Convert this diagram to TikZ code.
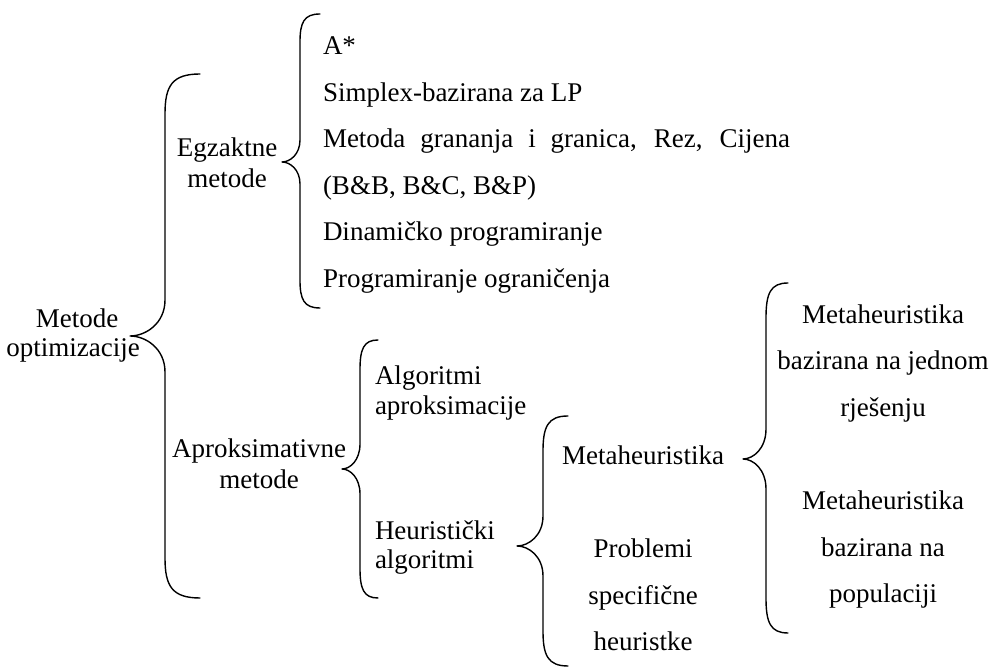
\documentclass[tikz,border=0pt]{standalone}
\usepackage{fontspec}
\setmainfont{Liberation Serif}
\newcommand\mybrace[8]{%
  \draw[bracestyle] (#1,#4) .. controls ({#2+0.2*(#1-#2)},#4) and (#2,{#4+0.3*#7}) .. (#2,{#4+#7})
   -- (#2,{#5-#8}) .. controls (#2,{#5-0.35*#8}) and ({#3+0.45*(#2-#3)},#5) .. (#3,#5)
   .. controls ({#3+0.45*(#2-#3)},#5) and (#2,{#5+0.35*#8}) .. (#2,{#5+#8})
   -- (#2,{#6-#7}) .. controls (#2,{#6-0.3*#7}) and ({#2+0.2*(#1-#2)},#6) .. (#1,#6);}
\begin{document}
\begin{tikzpicture}[x=0.5pt,y=-0.5pt,
  bracestyle/.style={line width=0.7pt,line cap=round,line join=round},
  txt/.style={inner sep=0pt,outer sep=0pt,font=\fontsize{13.5}{16}\selectfont},
  cl/.style={txt,anchor=base},
  ll/.style={txt,anchor=base west}]
\useasboundingbox (0,0) rectangle (992,672);
% root
\node[cl] (r1) at (77,328) {Metode};
\node[cl] (r2) at (73,357) {optimizacije};
\mybrace{200}{165}{130}{74}{336}{598}{40}{36}
% exact
\node[cl] (e1) at (227,157) {Egzaktne};
\node[cl] (e2) at (227,188) {metode};
\mybrace{320}{300}{282}{14}{162}{308}{28}{22}
\node[ll] (i1) at (323,55) {A*};
\node[ll] (i2) at (323,102) {Simplex-bazirana za LP};
\node[ll] (i3) at (323,148) {\makebox[233.5pt][s]{Metoda grananja i granica, Rez, Cijena}};
\node[ll] (i4) at (323,195) {(B\&B, B\&C, B\&P)};
\node[ll] (i5) at (323,241) {Dinamičko programiranje};
\node[ll] (i6) at (323,288) {Programiranje ograničenja};
% approximate
\node[cl] (a1) at (259,458) {Aproksimativne};
\node[cl] (a2) at (259,489) {metode};
\mybrace{378}{360}{342}{340}{469}{598}{30}{25}
\node[ll] (g1) at (375,385) {Algoritmi};
\node[ll] (g2) at (375,415) {aproksimacije};
\node[ll] (h1) at (375,540) {Heuristički};
\node[ll] (h2) at (375,569) {algoritmi};
\mybrace{568}{543}{517}{416}{546}{666}{35}{30}
\node[cl] (m1) at (643,465) {Metaheuristika};
\node[cl] (p1) at (643,558) {Problemi};
\node[cl] (p2) at (643,605) {specifične};
\node[cl] (p3) at (643,651) {heuristke};
\mybrace{788}{766}{743}{283}{459}{633}{35}{30}
\node[cl] (s1) at (883,324) {Metaheuristika};
\node[cl] (s2) at (883,370) {bazirana na jednom};
\node[cl] (s3) at (883,417) {rješenju};
\node[cl] (q1) at (883,510) {Metaheuristika};
\node[cl] (q2) at (883,557) {bazirana na};
\node[cl] (q3) at (883,603) {populaciji};
\end{tikzpicture}
\end{document}
